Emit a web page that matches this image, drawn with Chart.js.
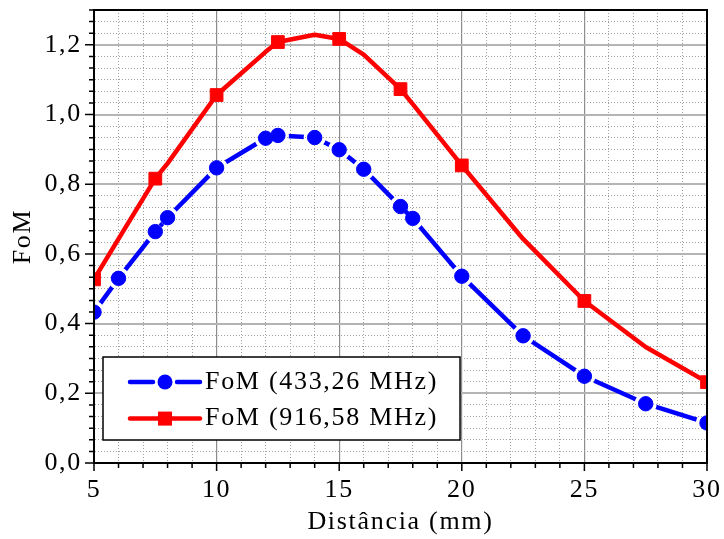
<!DOCTYPE html>
<html>
<head>
<meta charset="utf-8">
<title>FoM x Distância</title>
<script src="https://cdn.jsdelivr.net/npm/chart.js@4/dist/chart.umd.min.js"></script>
<style>
  html, body { margin: 0; padding: 0; background: #fff; }
</style>
</head>
<body>
<canvas id="fomChart" width="724" height="539"></canvas>
<script>
// Distância (mm) e FoM medidos nas duas frequências
const distancia = [5, 6, 7.5, 8, 10, 12, 12.5, 14, 15, 16, 17.5, 18, 20, 22.5, 25, 27.5, 30];
const fom433 = [0.433, 0.530, 0.664, 0.704, 0.847, 0.932, 0.940, 0.934, 0.899, 0.843, 0.736, 0.702, 0.536, 0.365, 0.249, 0.170, 0.115];
const fom916 = [0.527, 0.643, 0.816, 0.860, 1.056, 1.180, 1.208, 1.229, 1.217, 1.172, 1.073, 1.030, 0.854, 0.643, 0.465, 0.333, 0.232];
// pontos da curva de 916,58 MHz que levam marcador
const marcados916 = [5, 7.5, 10, 12.5, 15, 17.5, 20, 25, 30];

const rotulos = ['FoM (433,26 MHz)', 'FoM (916,58 MHz)'];
const azul = '#0000ff';
const vermelho = '#ff0000';
const fonte = '"Liberation Serif", "Times New Roman", serif';
const espLetra = '1.7px';

const pts = ys => distancia.map((x, i) => ({ x: x, y: ys[i] }));
const majorY = v => Math.abs(v / 0.2 - Math.round(v / 0.2)) < 1e-6;
const majorX = v => Math.abs(v / 5 - Math.round(v / 5)) < 1e-6;
const serie = (min, max, n) => {
    const out = [];
    for (let i = 0; i <= n; i++) out.push({ value: min + (max - min) * i / n });
    return out;
};

Chart.defaults.font.family = fonte;
Chart.defaults.font.size = 26;
Chart.defaults.color = '#000';

// espaçamento entre letras para aproximar a fonte larga do original
const espacamento = {
    id: 'espacamento',
    beforeUpdate(chart) { chart.ctx.letterSpacing = espLetra; },
    beforeDraw(chart) { chart.ctx.letterSpacing = espLetra; }
};

// linha com intervalo em volta de cada marcador
const intervalo = {
    id: 'intervalo',
    beforeDatasetDraw(chart, args) {
        const r = chart.data.datasets[args.index].gapRadius;
        if (!r) return;
        const ctx = chart.ctx;
        ctx.save();
        ctx.beginPath();
        ctx.rect(0, 0, chart.width, chart.height);
        args.meta.data.forEach(p => {
            ctx.moveTo(p.x + r, p.y);
            ctx.arc(p.x, p.y, r, 0, Math.PI * 2);
        });
        ctx.clip('evenodd');
    },
    afterDatasetDraw(chart, args) {
        if (chart.data.datasets[args.index].gapRadius) chart.ctx.restore();
    }
};

// legenda com moldura
const legenda = {
    id: 'legenda',
    afterDatasetsDraw(chart) {
        const { ctx, chartArea: a } = chart;
        const linhas = chart.data.datasets.filter(d => d.label);
        ctx.save();
        ctx.font = '26px ' + fonte;
        ctx.letterSpacing = espLetra;
        const textW = Math.max(...linhas.map(d => ctx.measureText(d.label).width));
        const left = a.left + 9, top = a.bottom - 106;
        const textX = left + 102;
        const w = textX - left + textW + 22, h = 83;
        ctx.fillStyle = '#fff';
        ctx.fillRect(left, top, w, h);
        ctx.strokeStyle = '#000';
        ctx.lineWidth = 1.5;
        ctx.strokeRect(left, top, w, h);
        linhas.forEach((d, i) => {
            const cy = top + 25 + i * 36.6;
            const x0 = left + 27, x1 = left + 97, xm = (x0 + x1) / 2;
            const cor = d.pointBackgroundColor;
            ctx.strokeStyle = cor;
            ctx.fillStyle = cor;
            ctx.lineWidth = 4.5;
            ctx.lineCap = 'round';
            ctx.beginPath();
            if (d.pointStyle === 'circle') {
                ctx.moveTo(x0, cy); ctx.lineTo(xm - 12, cy);
                ctx.moveTo(xm + 12, cy); ctx.lineTo(x1, cy);
                ctx.stroke();
                ctx.beginPath();
                ctx.arc(xm, cy, 7.5, 0, Math.PI * 2);
                ctx.fill();
            } else {
                ctx.moveTo(x0, cy); ctx.lineTo(x1, cy);
                ctx.stroke();
                ctx.fillRect(xm - 7, cy - 7, 14, 14);
            }
            ctx.fillStyle = '#000';
            ctx.textBaseline = 'middle';
            ctx.textAlign = 'left';
            ctx.fillText(d.label, textX, cy);
        });
        ctx.restore();
    }
};

// marcas dos eixos (maiores e menores) e moldura do gráfico
const molduraEixos = {
    id: 'molduraEixos',
    afterDraw(chart) {
        const { ctx, chartArea: a, scales: { x, y } } = chart;
        ctx.save();
        ctx.strokeStyle = '#000';
        ctx.lineWidth = 1.5;
        ctx.beginPath();
        y.ticks.forEach(t => {
            const py = y.getPixelForValue(t.value);
            const len = majorY(t.value) ? 9 : 5;
            ctx.moveTo(a.left - len, py);
            ctx.lineTo(a.left, py);
        });
        x.ticks.forEach(t => {
            const px = x.getPixelForValue(t.value);
            const len = majorX(t.value) ? 8 : 5;
            ctx.moveTo(px, a.bottom);
            ctx.lineTo(px, a.bottom + len);
        });
        ctx.stroke();
        ctx.lineWidth = 2;
        ctx.strokeRect(a.left, a.top, a.right - a.left, a.bottom - a.top);
        ctx.restore();
    }
};

new Chart(document.getElementById('fomChart'), {
    type: 'line',
    data: {
        datasets: [{
            label: rotulos[0],
            data: pts(fom433),
            showLine: false,
            pointStyle: 'circle',
            pointRadius: 7.2,
            pointBorderWidth: 1,
            pointBackgroundColor: azul,
            pointBorderColor: azul,
            clip: 0
        }, {
            data: pts(fom433),
            borderColor: azul,
            borderWidth: 4.5,
            pointRadius: 0,
            gapRadius: 11,
            clip: 0
        }, {
            label: rotulos[1],
            data: pts(fom916),
            borderColor: vermelho,
            borderWidth: 4.5,
            borderJoinStyle: 'round',
            pointStyle: 'rect',
            pointRadius: c => marcados916.includes(distancia[c.dataIndex]) ? 9 : 0,
            pointBorderWidth: 1,
            pointBackgroundColor: vermelho,
            pointBorderColor: vermelho,
            clip: 0
        }]
    },
    options: {
        responsive: false,
        animation: false,
        events: [],
        layout: { padding: 0 },
        plugins: { legend: { display: false }, tooltip: { enabled: false } },
        scales: {
            x: {
                type: 'linear',
                min: 5,
                max: 30,
                afterBuildTicks: s => { s.ticks = serie(5, 30, 25); },
                afterFit: s => {
                    s.height = 76;
                    s.paddingLeft = 0; s.paddingRight = 17;
                    s.paddingTop = 0; s.paddingBottom = 0;
                },
                ticks: {
                    autoSkip: false,
                    maxRotation: 0,
                    minRotation: 0,
                    padding: 12,
                    callback: v => majorX(v) ? String(Math.round(v)) : ''
                },
                grid: {
                    drawTicks: false,
                    color: c => c.tick && majorX(c.tick.value) ? '#8c8c8c' : '#a0a0a0',
                    lineWidth: c => c.tick && majorX(c.tick.value) ? 1.2 : 1
                },
                border: {
                    color: '#000',
                    width: 2,
                    dash: c => c.tick && !majorX(c.tick.value) ? [1, 2] : []
                },
                title: {
                    display: true,
                    text: 'Distância (mm)',
                    padding: { top: 0, bottom: 1 }
                }
            },
            y: {
                min: 0,
                max: 1.3,
                afterBuildTicks: s => { s.ticks = serie(0, 1.3, 39); },
                afterFit: s => {
                    s.width = 94;
                    s.paddingTop = 7; s.paddingBottom = 0;
                    s.paddingLeft = 0; s.paddingRight = 0;
                },
                ticks: {
                    autoSkip: false,
                    padding: 12,
                    callback: v => majorY(v) ? v.toFixed(1).replace('.', ',') : ''
                },
                grid: {
                    drawTicks: false,
                    color: c => c.tick && majorY(c.tick.value) ? '#b4b4b4' : '#a0a0a0',
                    lineWidth: c => c.tick && majorY(c.tick.value) ? 2 : 1
                },
                border: {
                    color: '#000',
                    width: 2,
                    dash: c => c.tick && !majorY(c.tick.value) ? [1, 2] : []
                },
                title: {
                    display: true,
                    text: 'FoM',
                    padding: { top: 8, bottom: 0 }
                }
            }
        }
    },
    plugins: [espacamento, intervalo, legenda, molduraEixos]
});
</script>
</body>
</html>
